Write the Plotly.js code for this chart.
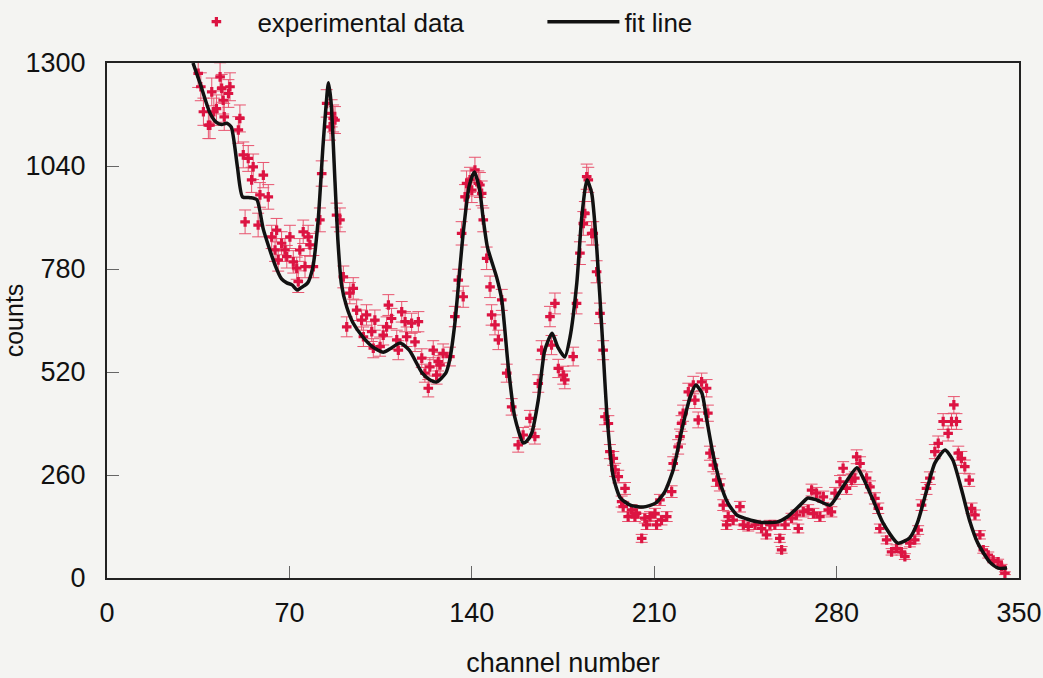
<!DOCTYPE html>
<html>
<head>
<meta charset="utf-8">
<script src="https://cdn.plot.ly/plotly-3.0.1.min.js"></script>
<style>
  html, body { margin: 0; padding: 0; background: #f4f4f2; }
  #chart { width: 1043px; height: 678px; }
</style>
</head>
<body>
<div id="chart"></div>
<script>
// experimental data (channel number, counts)
const channel = [
  35, 36, 37, 38.9, 39.5, 40.2, 41, 42, 43.4, 44, 44.6, 45, 46.6, 47.2, 50.4, 51,
  52.3, 53, 54.2, 55.5, 56.1, 58, 58.7, 60, 61.9, 63.2, 64.5, 65.1, 65.7, 67, 68.3, 69,
  70.2, 71.5, 72.8, 73.4, 74, 75.3, 76, 77.2, 77.9, 79.2, 81.7, 82.4, 84.3, 85.6, 86.2, 86.8,
  87.5, 88.1, 89.4, 90.7, 92, 93.2, 94.5, 95.8, 97.7, 98.4, 99.6, 101.6, 102.2, 102.8, 104.8, 106,
  107.3, 108, 109.2, 111.2, 111.8, 113.1, 114.4, 115, 116.9, 118.2, 119.5, 120.8, 122, 123.3, 123.9, 125.2,
  126.5, 127.1, 127.8, 129, 131.6, 133.5, 134.8, 136.1, 136.7, 137.4, 138, 139.3, 140, 141.2, 142.5, 143.1,
  143.8, 144.4, 145.7, 147, 147.6, 148.9, 150.2, 151.5, 153.4, 155.3, 157.8, 159.7, 162.3, 164.2, 165.5, 166.8,
  170, 170.6, 171.9, 173.2, 175.1, 175.7, 178.9, 180.2, 181.5, 182.8, 183.4, 184.1, 184.7, 186, 186.6, 187.9,
  189.2, 190.4, 191.1, 192.4, 193, 194.3, 195, 196.2, 197.5, 198.1, 198.8, 200, 201.3, 202.6, 203.2, 205.2,
  206.4, 207.1, 208.4, 210.3, 210.9, 212.2, 212.8, 214.8, 216.7, 217.3, 219.2, 219.9, 220.5, 221.1, 223.1, 225,
  225.6, 226.9, 228.2, 230.1, 230.6, 231.4, 232.7, 234, 235.2, 236.5, 237.8, 238.4, 240.3, 242.9, 244.2, 246.1,
  248.7, 251.2, 253.1, 254.4, 256.3, 258.2, 258.9, 260.2, 262.7, 264.6, 265.3, 267.2, 269.1, 270.4, 271.1, 272.3,
  273.6, 274.9, 276.8, 278, 279.4, 281.3, 282.5, 283.8, 285.8, 287, 287.7, 289, 291.5, 292.8, 294.7, 296,
  296.6, 299.2, 301.1, 303, 304.9, 306.2, 308.1, 310, 311.3, 312.6, 314.5, 315.8, 317.7, 319, 320.9, 322.8,
  324.1, 325, 326, 326.7, 327.9, 329.2, 330.9, 331.8, 333.1, 335, 336.3, 338.2, 340.1, 342, 343.3, 344.6
];
const counts = [
  1274, 1240, 1177, 1143, 1143, 1227, 1177, 1185, 1265, 1236, 1206, 1164, 1223, 1240, 1131, 1160,
  1068, 899, 1059, 1005, 1038, 891, 967, 1017, 962, 861, 828, 878, 803, 845, 828, 811,
  861, 798, 782, 748, 828, 874, 786, 861, 841, 786, 904, 1021, 1198, 1139, 1173, 1160,
  1156, 916, 904, 760, 634, 719, 731, 676, 651, 609, 664, 622, 580, 651, 584, 613,
  634, 689, 655, 601, 575, 672, 647, 609, 643, 596, 647, 555, 517, 479, 533, 575,
  512, 546, 538, 567, 559, 660, 752, 870, 710, 962, 996, 1005, 979, 1030, 996, 992,
  971, 904, 807, 735, 664, 639, 601, 702, 517, 432, 336, 361, 403, 357, 491, 575,
  660, 588, 693, 529, 512, 500, 559, 693, 820, 895, 920, 1013, 1005, 870, 870, 773,
  668, 575, 407, 390, 319, 302, 273, 256, 193, 180, 226, 155, 172, 155, 163, 100,
  151, 134, 155, 163, 134, 197, 146, 155, 218, 289, 331, 357, 390, 416, 470, 487,
  449, 399, 495, 479, 416, 315, 285, 247, 235, 184, 134, 155, 146, 180, 134, 130,
  134, 125, 109, 134, 134, 100, 71, 134, 151, 159, 125, 167, 172, 222, 163, 214,
  155, 205, 172, 167, 214, 243, 277, 226, 247, 252, 306, 289, 252, 230, 201, 176,
  125, 96, 66, 75, 66, 54, 88, 96, 121, 184, 226, 252, 319, 340, 395, 365,
  395, 437, 395, 315, 302, 281, 247, 176, 159, 109, 71, 58, 45, 41, 29, 12
];

// fit line (channel number, counts)
const fitChannel = [
  33, 35.7, 39.5, 42, 44, 46, 47.7, 50, 52, 55, 57.5, 60, 64.5, 67, 69, 71,
  73, 75, 77, 79, 81, 83, 85, 86, 87.5, 88.6, 90, 92, 94.5, 98, 102, 106,
  109, 112.5, 116, 121, 124, 126.5, 130, 131.5, 133.5, 136.7, 139, 141, 143, 144.3, 146, 149.5,
  151.5, 154, 156.5, 159.7, 161, 163, 165.5, 168, 170.8, 173, 175.7, 177.7, 180.3, 182.2, 184.2, 186,
  188, 190, 192, 194.3, 197, 200.8, 205.8, 210.5, 214, 217.3, 220.6, 223.8, 226, 228.3, 230, 232.5,
  235, 238.3, 241.7, 245.6, 250.6, 257, 261, 266, 269, 272.4, 277.5, 282.4, 287.8, 290, 294, 297.8,
  303.5, 308, 311, 314.6, 317.7, 321.6, 324.6, 328, 331, 334.2, 338.8, 342, 345.4
];
const fitCounts = [
  1300, 1249, 1174, 1150, 1145, 1148, 1138, 1040, 962, 960, 955, 880, 790, 755, 745, 740,
  727, 735, 745, 785, 900, 1100, 1250, 1200, 1000, 853, 740, 684, 643, 610, 583, 570,
  580, 593, 575, 517, 500, 495, 517, 550, 643, 871, 990, 1025, 980, 911, 835, 760,
  702, 533, 406, 341, 345, 366, 449, 575, 618, 583, 558, 608, 745, 911, 1005, 972,
  828, 618, 400, 255, 202, 184, 179, 189, 217, 273, 374, 457, 487, 467, 406, 315,
  247, 189, 159, 149, 141, 141, 154, 184, 202, 197, 184, 230, 278, 255, 197, 139,
  88, 101, 139, 222, 290, 323, 298, 222, 146, 88, 40, 25, 25
];

const seriesNames = ['experimental data', 'fit line'];
const xTicks = [0, 70, 140, 210, 280, 350];
const yTicks = [0, 260, 520, 780, 1040, 1300];

const FONT = 'Liberation Sans, Arial, sans-serif';

const traces = [
  {
    x: channel, y: counts,
    type: 'scatter', mode: 'markers',
    name: seriesNames[0],
    marker: { symbol: 'cross', size: 8, color: '#dc1442' },
    error_y: { type: 'sqrt', visible: true, color: '#e8546f', thickness: 1, width: 6 }
  },
  {
    x: fitChannel, y: fitCounts,
    type: 'scatter', mode: 'lines',
    name: seriesNames[1],
    line: { color: '#111111', width: 3.5, shape: 'spline', smoothing: 0.6 }
  }
];

const layout = {
  width: 1043, height: 678,
  margin: { l: 107, r: 24, t: 63, b: 100, autoexpand: false },
  paper_bgcolor: '#f4f4f2',
  plot_bgcolor: '#f4f4f2',
  font: { family: FONT, size: 26, color: '#111' },
  showlegend: true,
  legend: {
    orientation: 'h',
    x: 0.075, xanchor: 'left',
    y: 1.08, yanchor: 'middle',
    itemwidth: 72,
    entrywidth: 280,
    font: { family: FONT, size: 26, color: '#111' },
    bgcolor: 'rgba(0,0,0,0)'
  },
  xaxis: {
    range: [0, 350],
    tickvals: xTicks,
    ticktext: xTicks.map(String),
    ticks: 'inside', ticklen: 12, tickwidth: 1, tickcolor: '#666',
    showline: true, linecolor: '#222', linewidth: 2, mirror: true,
    showgrid: false, zeroline: false,
    ticklabelstandoff: 10,
    tickfont: { family: FONT, size: 27, color: '#111' },
    title: { text: 'channel number', font: { family: FONT, size: 27, color: '#111' }, standoff: 26 },
    automargin: false
  },
  yaxis: {
    range: [0, 1300],
    tickvals: yTicks,
    ticktext: yTicks.map(String),
    ticks: 'inside', ticklen: 12, tickwidth: 1, tickcolor: '#666',
    showline: true, linecolor: '#222', linewidth: 2, mirror: true,
    showgrid: false, zeroline: false,
    ticklabelstandoff: 14,
    tickfont: { family: FONT, size: 27, color: '#111' },
    title: { text: 'counts', font: { family: FONT, size: 25, color: '#111' }, standoff: 10 },
    automargin: false
  }
};

Plotly.newPlot('chart', traces, layout, { displayModeBar: false, staticPlot: true });
</script>
</body>
</html>
